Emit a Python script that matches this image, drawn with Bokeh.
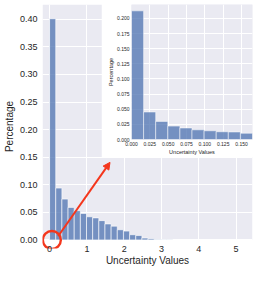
import numpy as np
from bokeh.plotting import figure
from bokeh.models import GridBox, Arrow, NormalHead, FixedTicker, PrintfTickFormatter, BoxAnnotation
from bokeh.embed import file_html
from bokeh.resources import INLINE

# ---- data ----
main_bin_width = 0.165
main_pct = [0.401, 0.094, 0.074, 0.059, 0.053, 0.048, 0.042, 0.040, 0.035, 0.029,
            0.025, 0.0185, 0.016, 0.0095, 0.008, 0.0034, 0.0022, 0.0006, 0.0003, 0.0002,
            0.0001, 0.0001, 0.00005, 0.00005, 0.00003, 0.00003, 0.00002, 0.00002,
            0.00001, 0.00001, 0.00001, 0.00001]
inset_bin_width = 0.0165
inset_pct = [0.2125, 0.0454, 0.0299, 0.0221, 0.0190, 0.0160, 0.0144, 0.0128, 0.0124, 0.0103]

main_xticks = [0, 1, 2, 3, 4, 5]
main_yticks = [0.00, 0.05, 0.10, 0.15, 0.20, 0.25, 0.30, 0.35, 0.40]
inset_xticks = [0.000, 0.025, 0.050, 0.075, 0.100, 0.125, 0.150]
inset_yticks = [0.000, 0.025, 0.050, 0.075, 0.100, 0.125, 0.150, 0.175, 0.200]

circle_x = [0.06]
circle_y = [0.0]
arrow_start = (0.233, 0.0071)
arrow_end = (1.62, 0.1406)

BAR = "#4C72B0"
BG = "#EAEAF2"
RED = "#F4361C"
TXT = "#262626"
FONT = "Liberation Sans"


def style(p, tick_size, label_size, tick_standoff, label_standoff):
    p.border_fill_color = "white"
    p.outline_line_color = None
    p.grid.grid_line_color = "white"
    p.grid.grid_line_width = 1
    for ax in (p.xaxis, p.yaxis):
        ax.axis_line_color = None
        ax.major_tick_line_color = None
        ax.minor_tick_line_color = None
        ax.major_tick_out = 0
        ax.major_tick_in = 0
        ax.major_label_text_font = FONT
        ax.major_label_text_font_size = tick_size
        ax.major_label_text_color = TXT
        ax.axis_label_text_font = FONT
        ax.axis_label_text_font_size = label_size
        ax.axis_label_text_font_style = "normal"
        ax.axis_label_text_color = TXT
        ax.major_label_standoff = tick_standoff
        ax.axis_label_standoff = label_standoff


# ---- main histogram ----
n = len(main_pct)
left = np.arange(n) * main_bin_width
main = figure(width=257, height=268, output_backend="svg", toolbar_location=None,
              x_range=(-0.19, 5.44), y_range=(-0.0155, 0.4267),
              min_border_left=36, min_border_right=0, min_border_top=0, min_border_bottom=15)
main.background_fill_color = "white"
main.add_layout(BoxAnnotation(bottom=0, fill_color=BG, fill_alpha=1, line_color=None, level="image"))
main.quad(left=left, right=left + main_bin_width, bottom=0, top=main_pct,
          fill_color=BAR, fill_alpha=0.75, line_color="white", line_width=0.6)
style(main, "9px", "10px", 5, 2)
main.xaxis.major_label_standoff = -3
main.xaxis.axis_label_standoff = 0
main.xaxis.axis_label = "Uncertainty Values"
main.yaxis.axis_label = "Percentage"
main.xaxis.ticker = FixedTicker(ticks=main_xticks)
main.yaxis.ticker = FixedTicker(ticks=main_yticks)
main.yaxis.formatter = PrintfTickFormatter(format="%.2f")

main.add_layout(Arrow(end=NormalHead(size=7, fill_color=RED, line_color=RED, line_width=1),
                      x_start=arrow_start[0], y_start=arrow_start[1],
                      x_end=arrow_end[0], y_end=arrow_end[1],
                      line_color=RED, line_width=2))
main.scatter(x=circle_x, y=circle_y, marker="circle", size=18, fill_color=None,
             line_color=RED, line_width=2.4)

# ---- inset histogram ----
m = len(inset_pct)
ileft = np.arange(m) * inset_bin_width
inset = figure(width=156, height=157, output_backend="svg", toolbar_location=None,
               x_range=(0, 0.165), y_range=(0, 0.223),
               min_border_left=30, min_border_right=5, min_border_top=4, min_border_bottom=15)
inset.background_fill_color = BG
inset.quad(left=ileft, right=ileft + inset_bin_width, bottom=0, top=inset_pct,
           fill_color=BAR, fill_alpha=0.75, line_color="white", line_width=0.5)
style(inset, "5px", "5.5px", 2, 0)
inset.xaxis.axis_label = "Uncertainty Values"
inset.yaxis.axis_label = "Percentage"
inset.xaxis.ticker = FixedTicker(ticks=inset_xticks)
inset.yaxis.ticker = FixedTicker(ticks=inset_yticks)
inset.xaxis.formatter = PrintfTickFormatter(format="%.3f")
inset.yaxis.formatter = PrintfTickFormatter(format="%.3f")

layout = GridBox(children=[(main, 0, 0, 2, 2), (inset, 0, 1, 1, 1)],
                 rows=["157px", "111px"], cols=["101px", "156px"], spacing=0)

open("out.html", "w").write(file_html(layout, INLINE))
